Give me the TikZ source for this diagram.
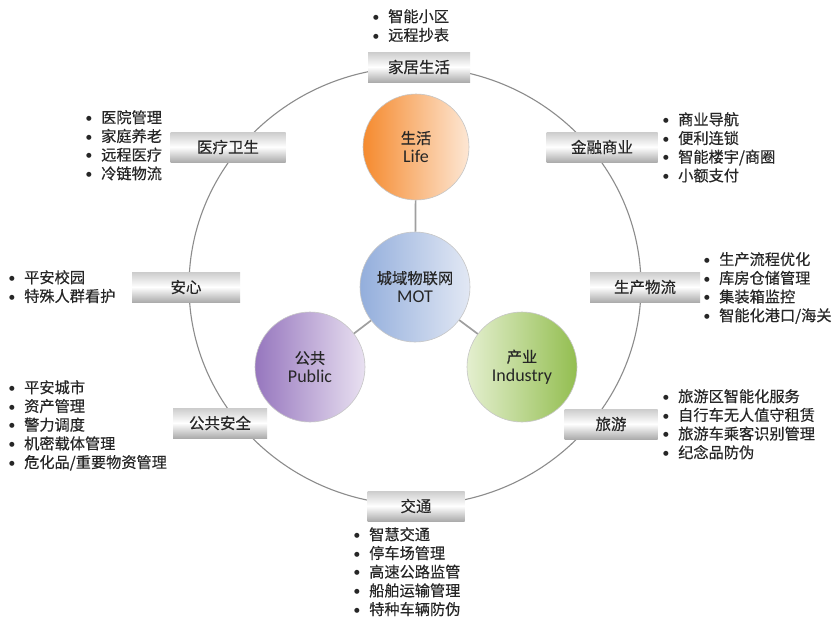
\documentclass[tikz,border=0pt]{standalone}
\usepackage{fontspec}
\setmainfont{Noto Sans CJK SC}[FakeBold=0.35]
\newfontfamily\lat{Carlito}
\newfontfamily\djv{DejaVu Sans}
\definecolor{txt}{HTML}{262626}
\definecolor{ringc}{HTML}{8C8C8C}
\definecolor{orgA}{HTML}{F58A2E}
\definecolor{orgB}{HTML}{FDE7D4}
\definecolor{bluA}{HTML}{93AEDC}
\definecolor{bluB}{HTML}{E2E8F4}
\definecolor{purA}{HTML}{9676BE}
\definecolor{purB}{HTML}{E9E1F1}
\definecolor{grnA}{HTML}{E4EFCF}
\definecolor{grnB}{HTML}{93BE50}
\newcommand\bl{\makebox[15pt][l]{\raisebox{2.6pt}{\djv\fontsize{6.5}{7}\selectfont ●}}}
\begin{document}
\begin{tikzpicture}[x=1pt,y=-1pt,
  catbox/.style={minimum height=30pt, inner sep=0pt, text=txt,
    font=\fontsize{15.5}{18}\selectfont,
    top color=gray!40, bottom color=gray!65, middle color=white},
  bubble/.style={circle, minimum size=110pt, inner sep=0pt, draw=gray!45,
    line width=0.6pt, align=center, text=txt,
    font=\fontsize{15.3}{19}\selectfont},
  itemlist/.style={anchor=north west, inner sep=0pt, align=left, text=txt,
    font=\fontsize{15.2}{18.7}\selectfont},
  link/.style={draw=gray!75, line width=1.7pt}]
\path[use as bounding box, fill=white] (0,0) rectangle (839,621);

% ring
\draw[ringc, line width=1.1pt] (415,286) ellipse [x radius=226, y radius=219];

% category boxes
\node[catbox, minimum width=102pt] (home) at (419,67) {家居生活};
\node[catbox, minimum width=111pt] (fin) at (602,147) {金融商业};
\node[catbox, minimum width=110pt] (prod) at (645,287) {生产物流};
\node[catbox, minimum width=93pt] (tour) at (611,424) {旅游};
\node[catbox, minimum width=97pt] (traf) at (416,506) {交通};
\node[catbox, minimum width=94pt] (pubsec) at (220,423) {公共安全};
\node[catbox, minimum width=108pt] (safe) at (186,287) {安心};
\node[catbox, minimum width=115pt] (med) at (228,147) {医疗卫生};

% inner circles
\node[bubble, left color=bluA, right color=bluB] (mot) at (415,287) {城域物联网\\{\lat\fontsize{18}{19}\selectfont MOT}};
\node[bubble, minimum size=106pt, left color=orgA, right color=orgB] (life) at (416,147) {生活\\{\lat\fontsize{18}{19}\selectfont Life}};
\node[bubble, left color=purA, right color=purB] (pub) at (310,367) {公共\\{\lat\fontsize{18}{19}\selectfont Public}};
\node[bubble, left color=grnA, right color=grnB] (ind) at (522,367) {产业\\{\lat\fontsize{18}{19}\selectfont Industry}};

\draw[link] (mot) -- (life);
\draw[link] (mot) -- (pub);
\draw[link] (mot) -- (ind);

% lists
\node[itemlist] (lhome) at (373,9) {\bl 智能小区\\\bl 远程抄表};
\node[itemlist] (lfin) at (663,112) {\bl 商业导航\\\bl 便利连锁\\\bl 智能楼宇/商圈\\\bl 小额支付};
\node[itemlist] (lprod) at (704,252) {\bl 生产流程优化\\\bl 库房仓储管理\\\bl 集装箱监控\\\bl 智能化港口/海关};
\node[itemlist] (ltour) at (663,389) {\bl 旅游区智能化服务\\\bl 自行车无人值守租赁\\\bl 旅游车乘客识别管理\\\bl 纪念品防伪};
\node[itemlist] (ltraf) at (354,527) {\bl 智慧交通\\\bl 停车场管理\\\bl 高速公路监管\\\bl 船舶运输管理\\\bl 特种车辆防伪};
\node[itemlist] (lpub) at (9,380) {\bl 平安城市\\\bl 资产管理\\\bl 警力调度\\\bl 机密载体管理\\\bl 危化品/重要物资管理};
\node[itemlist] (lsafe) at (9,270) {\bl 平安校园\\\bl 特殊人群看护};
\node[itemlist] (lmed) at (86,110) {\bl 医院管理\\\bl 家庭养老\\\bl 远程医疗\\\bl 冷链物流};
\end{tikzpicture}
\end{document}
